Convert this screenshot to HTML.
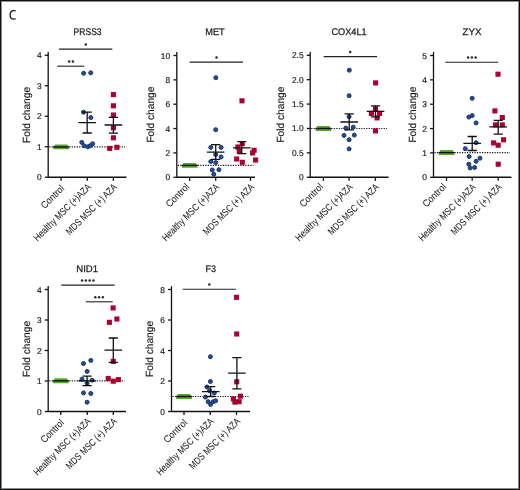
<!DOCTYPE html>
<html><head><meta charset="utf-8"><style>
html,body{margin:0;padding:0;background:#fff;}
body{width:520px;height:490px;overflow:hidden;position:relative;}
.frame{position:absolute;left:0;top:0;width:518px;height:488px;border:1px solid #111;}
.frame2{position:absolute;left:1px;top:1px;width:516px;height:486px;border:1px solid rgba(0,0,0,0.45);}
svg{position:absolute;left:0;top:0;will-change:transform;}
svg text{font-family:"Liberation Sans", sans-serif;text-rendering:geometricPrecision;fill:#1a1a1a;stroke:#1a1a1a;stroke-width:0.15px;}
.t{font-size:9.6px;stroke-width:0.25px;}
.fc{font-size:10.4px;}
.tk{font-size:8.4px;stroke-width:0.18px;}
.xl{font-size:9.8px;stroke-width:0.06px;}
.st{font-size:8px;}
.ax{stroke:#111;stroke-width:1.3;fill:none;}
.sg{stroke:#222;stroke-width:1.1;fill:none;}
.eb{stroke:#111;stroke-width:1.3;fill:none;}
.dot{stroke:#111;stroke-width:1.2;stroke-dasharray:1.2 1.3;fill:none;}
.gr{stroke:#5aa52d;stroke-width:5;stroke-linecap:round;fill:none;}
.blk{stroke:#111;stroke-width:1.4;fill:none;}
</style></head><body>
<div class="frame"></div><div class="frame2"></div>
<svg width="520" height="490" viewBox="0 0 520 490">
<path d="M15.8 10.95C14.9 10.55 14 10.5 13.3 10.6C11.3 10.9 10.1 12.7 10.1 14.9C10.1 17.2 11.4 18.9 13.5 19.05C14.3 19.1 15.1 19 15.8 18.7" fill="none" stroke="#111" stroke-width="1.25"/>
<g>
<text x="87.6" y="34.8" class="t" text-anchor="middle" textLength="28.0" lengthAdjust="spacingAndGlyphs">PRSS3</text>
<text transform="translate(29.5,114.9) rotate(-90)" class="fc" text-anchor="middle" textLength="56" lengthAdjust="spacingAndGlyphs">Fold change</text>
<path d="M48.2 52V177.25H126.5" class="ax"/>
<path d="M44.8 177.25H48.2" class="ax"/>
<text x="41.6" y="180.25" class="tk" text-anchor="end">0</text>
<path d="M44.8 146.75H48.2" class="ax"/>
<text x="41.6" y="149.75" class="tk" text-anchor="end">1</text>
<path d="M44.8 116.25H48.2" class="ax"/>
<text x="41.6" y="119.25" class="tk" text-anchor="end">2</text>
<path d="M44.8 85.75H48.2" class="ax"/>
<text x="41.6" y="88.75" class="tk" text-anchor="end">3</text>
<path d="M44.8 55.25H48.2" class="ax"/>
<text x="41.6" y="58.25" class="tk" text-anchor="end">4</text>
<path d="M61.1 177.25V180.85" class="ax"/>
<path d="M87.3 177.25V180.85" class="ax"/>
<path d="M113.4 177.25V180.85" class="ax"/>
<text transform="translate(64.9,189.05) rotate(-45)" class="xl" text-anchor="end" textLength="28.6" lengthAdjust="spacingAndGlyphs">Control</text>
<text transform="translate(91.5,187.65) rotate(-45)" class="xl" text-anchor="end" textLength="76.4" lengthAdjust="spacingAndGlyphs">Healthy MSC (+)AZA</text>
<text transform="translate(117.6,187.65) rotate(-45)" class="xl" text-anchor="end" textLength="67.5" lengthAdjust="spacingAndGlyphs">MDS MSC (+) AZA</text>
<path d="M49.2 146.95H125" class="dot"/>
<path d="M59 49.1H112.3" class="sg"/>
<circle cx="85.8" cy="44.5" r="1.25" fill="#2a2a2a"/>
<path d="M57.3 66.2H84.3" class="sg"/>
<circle cx="69.1" cy="61.6" r="1.25" fill="#2a2a2a"/>
<circle cx="72.9" cy="61.6" r="1.25" fill="#2a2a2a"/>
<path d="M54.9 144.45H67.4L69.3 149.35H53Z" fill="#5aa52d"/>
<path d="M53.1 146.95H69.2" class="blk"/>
<circle cx="83.6" cy="73.3" r="2.0" fill="#2b4b8a" stroke="#14336f" stroke-width="1"/>
<circle cx="90.7" cy="72.8" r="2.0" fill="#2b4b8a" stroke="#14336f" stroke-width="1"/>
<circle cx="83.5" cy="112.2" r="2.0" fill="#2b4b8a" stroke="#14336f" stroke-width="1"/>
<circle cx="90.8" cy="117.6" r="2.0" fill="#2b4b8a" stroke="#14336f" stroke-width="1"/>
<circle cx="81.8" cy="142.4" r="2.0" fill="#2b4b8a" stroke="#14336f" stroke-width="1"/>
<circle cx="84.2" cy="145.8" r="2.0" fill="#2b4b8a" stroke="#14336f" stroke-width="1"/>
<circle cx="87.7" cy="146.8" r="2.0" fill="#2b4b8a" stroke="#14336f" stroke-width="1"/>
<circle cx="90" cy="145.8" r="2.0" fill="#2b4b8a" stroke="#14336f" stroke-width="1"/>
<circle cx="92.6" cy="143.8" r="2.0" fill="#2b4b8a" stroke="#14336f" stroke-width="1"/>
<rect x="110.85" y="92.05" width="5.1" height="5.1" fill="#aa0032"/>
<rect x="110.85" y="103.25" width="5.1" height="5.1" fill="#aa0032"/>
<rect x="110.85" y="112.45" width="5.1" height="5.1" fill="#aa0032"/>
<rect x="110.85" y="125.25" width="5.1" height="5.1" fill="#aa0032"/>
<rect x="110.85" y="135.25" width="5.1" height="5.1" fill="#aa0032"/>
<rect x="107.15" y="145.85" width="5.1" height="5.1" fill="#aa0032"/>
<rect x="114.35" y="144.75" width="5.1" height="5.1" fill="#aa0032"/>
<path d="M87.2 112.2V133M82.6 112.2H91.8M82.6 133H91.8M78.4 122.7H96" class="eb"/>
<path d="M113.4 117.3V133.2M108.8 117.3H118M108.8 133.2H118M104.6 125H122.2" class="eb"/>
</g>
<g>
<text x="215" y="34.8" class="t" text-anchor="middle" textLength="19.5" lengthAdjust="spacingAndGlyphs">MET</text>
<text transform="translate(153.6,114.6) rotate(-90)" class="fc" text-anchor="middle" textLength="56" lengthAdjust="spacingAndGlyphs">Fold change</text>
<path d="M176.8 52V177.25H255" class="ax"/>
<path d="M173.4 177.25H176.8" class="ax"/>
<text x="170.2" y="180.25" class="tk" text-anchor="end">0</text>
<path d="M173.4 152.9H176.8" class="ax"/>
<text x="170.2" y="155.9" class="tk" text-anchor="end">2</text>
<path d="M173.4 128.55H176.8" class="ax"/>
<text x="170.2" y="131.55" class="tk" text-anchor="end">4</text>
<path d="M173.4 104.2H176.8" class="ax"/>
<text x="170.2" y="107.2" class="tk" text-anchor="end">6</text>
<path d="M173.4 79.85H176.8" class="ax"/>
<text x="170.2" y="82.85" class="tk" text-anchor="end">8</text>
<path d="M173.4 55.5H176.8" class="ax"/>
<text x="170.2" y="58.5" class="tk" text-anchor="end">10</text>
<path d="M189.6 177.25V180.85" class="ax"/>
<path d="M215.7 177.25V180.85" class="ax"/>
<path d="M250.5 177.25V180.85" class="ax"/>
<text transform="translate(189.9,187.45) rotate(-45)" class="xl" text-anchor="end" textLength="28.6" lengthAdjust="spacingAndGlyphs">Control</text>
<text transform="translate(219.9,187.65) rotate(-45)" class="xl" text-anchor="end" textLength="76.4" lengthAdjust="spacingAndGlyphs">Healthy MSC (+)AZA</text>
<text transform="translate(254.7,187.65) rotate(-45)" class="xl" text-anchor="end" textLength="67.5" lengthAdjust="spacingAndGlyphs">MDS MSC (+) AZA</text>
<path d="M177.8 165.4H253.5" class="dot"/>
<path d="M189.6 62.1H243" class="sg"/>
<circle cx="216.5" cy="57.5" r="1.25" fill="#2a2a2a"/>
<path d="M183.4 162.9H195.9L197.8 167.8H181.5Z" fill="#5aa52d"/>
<path d="M181.6 165.4H197.7" class="blk"/>
<circle cx="215.8" cy="77.7" r="2.0" fill="#2b4b8a" stroke="#14336f" stroke-width="1"/>
<circle cx="215.7" cy="129.7" r="2.0" fill="#2b4b8a" stroke="#14336f" stroke-width="1"/>
<circle cx="210.8" cy="147.4" r="2.0" fill="#2b4b8a" stroke="#14336f" stroke-width="1"/>
<circle cx="221.1" cy="147.4" r="2.0" fill="#2b4b8a" stroke="#14336f" stroke-width="1"/>
<circle cx="215.7" cy="154.6" r="2.0" fill="#2b4b8a" stroke="#14336f" stroke-width="1"/>
<circle cx="221.1" cy="156.9" r="2.0" fill="#2b4b8a" stroke="#14336f" stroke-width="1"/>
<circle cx="210.8" cy="161.5" r="2.0" fill="#2b4b8a" stroke="#14336f" stroke-width="1"/>
<circle cx="215.7" cy="162.6" r="2.0" fill="#2b4b8a" stroke="#14336f" stroke-width="1"/>
<circle cx="212.3" cy="170" r="2.0" fill="#2b4b8a" stroke="#14336f" stroke-width="1"/>
<circle cx="218.9" cy="169.7" r="2.0" fill="#2b4b8a" stroke="#14336f" stroke-width="1"/>
<circle cx="213.8" cy="174.3" r="2.0" fill="#2b4b8a" stroke="#14336f" stroke-width="1"/>
<rect x="239.45" y="98.25" width="5.1" height="5.1" fill="#aa0032"/>
<rect x="239.75" y="141.15" width="5.1" height="5.1" fill="#aa0032"/>
<rect x="235.35" y="144.45" width="5.1" height="5.1" fill="#aa0032"/>
<rect x="236.75" y="148.55" width="5.1" height="5.1" fill="#aa0032"/>
<rect x="251.55" y="147.75" width="5.1" height="5.1" fill="#aa0032"/>
<rect x="250.05" y="150.35" width="5.1" height="5.1" fill="#aa0032"/>
<rect x="234.15" y="156.45" width="5.1" height="5.1" fill="#aa0032"/>
<rect x="239.75" y="159.75" width="5.1" height="5.1" fill="#aa0032"/>
<rect x="253.05" y="157.45" width="5.1" height="5.1" fill="#aa0032"/>
<path d="M215.7 144.6V159.3M211.1 144.6H220.3M211.1 159.3H220.3M206.9 152.1H224.5" class="eb"/>
<path d="M241.8 141.6V153.7M237.2 141.6H246.4M237.2 153.7H246.4M233 147.8H250.6" class="eb"/>
</g>
<g>
<text x="349" y="34.8" class="t" text-anchor="middle" textLength="35.2" lengthAdjust="spacingAndGlyphs">COX4L1</text>
<text transform="translate(284.3,114.6) rotate(-90)" class="fc" text-anchor="middle" textLength="56" lengthAdjust="spacingAndGlyphs">Fold change</text>
<path d="M310.2 52V177.25H388.6" class="ax"/>
<path d="M306.8 177.25H310.2" class="ax"/>
<text x="303.6" y="180.25" class="tk" text-anchor="end">0</text>
<path d="M306.8 152.86H310.2" class="ax"/>
<text x="303.6" y="155.86" class="tk" text-anchor="end">0.5</text>
<path d="M306.8 128.47H310.2" class="ax"/>
<text x="303.6" y="131.47" class="tk" text-anchor="end">1.0</text>
<path d="M306.8 104.08H310.2" class="ax"/>
<text x="303.6" y="107.08" class="tk" text-anchor="end">1.5</text>
<path d="M306.8 79.69H310.2" class="ax"/>
<text x="303.6" y="82.69" class="tk" text-anchor="end">2.0</text>
<path d="M306.8 55.3H310.2" class="ax"/>
<text x="303.6" y="58.3" class="tk" text-anchor="end">2.5</text>
<path d="M323.4 177.25V180.85" class="ax"/>
<path d="M349.1 177.25V180.85" class="ax"/>
<path d="M375.4 177.25V180.85" class="ax"/>
<text transform="translate(323.7,187.45) rotate(-45)" class="xl" text-anchor="end" textLength="28.6" lengthAdjust="spacingAndGlyphs">Control</text>
<text transform="translate(353.3,187.65) rotate(-45)" class="xl" text-anchor="end" textLength="76.4" lengthAdjust="spacingAndGlyphs">Healthy MSC (+)AZA</text>
<text transform="translate(379.6,187.65) rotate(-45)" class="xl" text-anchor="end" textLength="67.5" lengthAdjust="spacingAndGlyphs">MDS MSC (+) AZA</text>
<path d="M311.2 128.5H387.1" class="dot"/>
<path d="M323.7 56.6H377" class="sg"/>
<circle cx="350.2" cy="52" r="1.25" fill="#2a2a2a"/>
<path d="M317.2 126H329.7L331.6 130.9H315.3Z" fill="#5aa52d"/>
<path d="M315.4 128.5H331.5" class="blk"/>
<circle cx="349.3" cy="70.2" r="2.0" fill="#2b4b8a" stroke="#14336f" stroke-width="1"/>
<circle cx="349.1" cy="95.7" r="2.0" fill="#2b4b8a" stroke="#14336f" stroke-width="1"/>
<circle cx="349.1" cy="116.7" r="2.0" fill="#2b4b8a" stroke="#14336f" stroke-width="1"/>
<circle cx="345.8" cy="128.1" r="2.0" fill="#2b4b8a" stroke="#14336f" stroke-width="1"/>
<circle cx="353.2" cy="127.2" r="2.0" fill="#2b4b8a" stroke="#14336f" stroke-width="1"/>
<circle cx="344" cy="135.4" r="2.0" fill="#2b4b8a" stroke="#14336f" stroke-width="1"/>
<circle cx="354.3" cy="135.1" r="2.0" fill="#2b4b8a" stroke="#14336f" stroke-width="1"/>
<circle cx="349.1" cy="139.7" r="2.0" fill="#2b4b8a" stroke="#14336f" stroke-width="1"/>
<circle cx="349.1" cy="148.9" r="2.0" fill="#2b4b8a" stroke="#14336f" stroke-width="1"/>
<rect x="373.05" y="80.35" width="5.1" height="5.1" fill="#aa0032"/>
<rect x="372.95" y="106.35" width="5.1" height="5.1" fill="#aa0032"/>
<rect x="368.85" y="110.85" width="5.1" height="5.1" fill="#aa0032"/>
<rect x="377.05" y="110.85" width="5.1" height="5.1" fill="#aa0032"/>
<rect x="374.55" y="115.35" width="5.1" height="5.1" fill="#aa0032"/>
<rect x="372.95" y="128.35" width="5.1" height="5.1" fill="#aa0032"/>
<path d="M349.2 113.8V129.9M344.6 113.8H353.8M344.6 129.9H353.8M340.4 122H358" class="eb"/>
<path d="M375.5 105.8V116.8M370.9 105.8H380.1M370.9 116.8H380.1M366.7 111.3H384.3" class="eb"/>
</g>
<g>
<text x="472" y="34.8" class="t" text-anchor="middle" textLength="19.0" lengthAdjust="spacingAndGlyphs">ZYX</text>
<text transform="translate(415.7,114.6) rotate(-90)" class="fc" text-anchor="middle" textLength="56" lengthAdjust="spacingAndGlyphs">Fold change</text>
<path d="M433.5 52V177.25H511.4" class="ax"/>
<path d="M430.1 177.25H433.5" class="ax"/>
<text x="426.9" y="180.25" class="tk" text-anchor="end">0</text>
<path d="M430.1 152.9H433.5" class="ax"/>
<text x="426.9" y="155.9" class="tk" text-anchor="end">1</text>
<path d="M430.1 128.55H433.5" class="ax"/>
<text x="426.9" y="131.55" class="tk" text-anchor="end">2</text>
<path d="M430.1 104.2H433.5" class="ax"/>
<text x="426.9" y="107.2" class="tk" text-anchor="end">3</text>
<path d="M430.1 79.85H433.5" class="ax"/>
<text x="426.9" y="82.85" class="tk" text-anchor="end">4</text>
<path d="M430.1 55.5H433.5" class="ax"/>
<text x="426.9" y="58.5" class="tk" text-anchor="end">5</text>
<path d="M446.5 177.25V180.85" class="ax"/>
<path d="M472.2 177.25V180.85" class="ax"/>
<path d="M498.2 177.25V180.85" class="ax"/>
<text transform="translate(446.8,187.45) rotate(-45)" class="xl" text-anchor="end" textLength="28.6" lengthAdjust="spacingAndGlyphs">Control</text>
<text transform="translate(476.4,187.65) rotate(-45)" class="xl" text-anchor="end" textLength="76.4" lengthAdjust="spacingAndGlyphs">Healthy MSC (+)AZA</text>
<text transform="translate(502.4,187.65) rotate(-45)" class="xl" text-anchor="end" textLength="67.5" lengthAdjust="spacingAndGlyphs">MDS MSC (+) AZA</text>
<path d="M434.5 152.6H509.9" class="dot"/>
<path d="M445.2 62.2H498.3" class="sg"/>
<circle cx="468.1" cy="57.6" r="1.25" fill="#2a2a2a"/>
<circle cx="471.9" cy="57.6" r="1.25" fill="#2a2a2a"/>
<circle cx="475.7" cy="57.6" r="1.25" fill="#2a2a2a"/>
<path d="M440.3 150.1H452.8L454.7 155H438.4Z" fill="#5aa52d"/>
<path d="M438.5 152.6H454.6" class="blk"/>
<circle cx="472.2" cy="98.3" r="2.0" fill="#2b4b8a" stroke="#14336f" stroke-width="1"/>
<circle cx="468.8" cy="117.1" r="2.0" fill="#2b4b8a" stroke="#14336f" stroke-width="1"/>
<circle cx="472.2" cy="115.6" r="2.0" fill="#2b4b8a" stroke="#14336f" stroke-width="1"/>
<circle cx="476.1" cy="122.9" r="2.0" fill="#2b4b8a" stroke="#14336f" stroke-width="1"/>
<circle cx="476.1" cy="142.7" r="2.0" fill="#2b4b8a" stroke="#14336f" stroke-width="1"/>
<circle cx="465.3" cy="148.7" r="2.0" fill="#2b4b8a" stroke="#14336f" stroke-width="1"/>
<circle cx="469.1" cy="156.5" r="2.0" fill="#2b4b8a" stroke="#14336f" stroke-width="1"/>
<circle cx="480" cy="158.2" r="2.0" fill="#2b4b8a" stroke="#14336f" stroke-width="1"/>
<circle cx="476.1" cy="161.3" r="2.0" fill="#2b4b8a" stroke="#14336f" stroke-width="1"/>
<circle cx="468.8" cy="164.2" r="2.0" fill="#2b4b8a" stroke="#14336f" stroke-width="1"/>
<circle cx="470.1" cy="167.9" r="2.0" fill="#2b4b8a" stroke="#14336f" stroke-width="1"/>
<circle cx="474.6" cy="167.5" r="2.0" fill="#2b4b8a" stroke="#14336f" stroke-width="1"/>
<rect x="495.45" y="71.65" width="5.1" height="5.1" fill="#aa0032"/>
<rect x="492.35" y="108.35" width="5.1" height="5.1" fill="#aa0032"/>
<rect x="499.75" y="114.95" width="5.1" height="5.1" fill="#aa0032"/>
<rect x="492.95" y="122.35" width="5.1" height="5.1" fill="#aa0032"/>
<rect x="499.75" y="122.35" width="5.1" height="5.1" fill="#aa0032"/>
<rect x="501.05" y="137.25" width="5.1" height="5.1" fill="#aa0032"/>
<rect x="491.05" y="140.35" width="5.1" height="5.1" fill="#aa0032"/>
<rect x="495.65" y="142.65" width="5.1" height="5.1" fill="#aa0032"/>
<rect x="495.65" y="161.65" width="5.1" height="5.1" fill="#aa0032"/>
<path d="M472.2 136.5V150.5M467.6 136.5H476.8M467.6 150.5H476.8M463.4 143.3H481" class="eb"/>
<path d="M498.2 120.4V134.2M493.6 120.4H502.8M493.6 134.2H502.8M489.4 126.8H507" class="eb"/>
</g>
<g>
<text x="87.2" y="271.6" class="t" text-anchor="middle" textLength="21.8" lengthAdjust="spacingAndGlyphs">NID1</text>
<text transform="translate(29.5,348.9) rotate(-90)" class="fc" text-anchor="middle" textLength="56" lengthAdjust="spacingAndGlyphs">Fold change</text>
<path d="M48.2 286.1V411.5H126" class="ax"/>
<path d="M44.8 411.5H48.2" class="ax"/>
<text x="41.6" y="414.5" class="tk" text-anchor="end">0</text>
<path d="M44.8 381H48.2" class="ax"/>
<text x="41.6" y="384" class="tk" text-anchor="end">1</text>
<path d="M44.8 350.5H48.2" class="ax"/>
<text x="41.6" y="353.5" class="tk" text-anchor="end">2</text>
<path d="M44.8 320H48.2" class="ax"/>
<text x="41.6" y="323" class="tk" text-anchor="end">3</text>
<path d="M44.8 289.5H48.2" class="ax"/>
<text x="41.6" y="292.5" class="tk" text-anchor="end">4</text>
<path d="M60.8 411.5V415.1" class="ax"/>
<path d="M87.2 411.5V415.1" class="ax"/>
<path d="M113.3 411.5V415.1" class="ax"/>
<text transform="translate(64.6,423.3) rotate(-45)" class="xl" text-anchor="end" textLength="28.6" lengthAdjust="spacingAndGlyphs">Control</text>
<text transform="translate(91.4,421.9) rotate(-45)" class="xl" text-anchor="end" textLength="76.4" lengthAdjust="spacingAndGlyphs">Healthy MSC (+)AZA</text>
<text transform="translate(117.5,421.9) rotate(-45)" class="xl" text-anchor="end" textLength="67.5" lengthAdjust="spacingAndGlyphs">MDS MSC (+) AZA</text>
<path d="M49.2 380.8H124.5" class="dot"/>
<path d="M61.2 285.1H114.6" class="sg"/>
<circle cx="82.05" cy="280.5" r="1.25" fill="#2a2a2a"/>
<circle cx="85.85" cy="280.5" r="1.25" fill="#2a2a2a"/>
<circle cx="89.65" cy="280.5" r="1.25" fill="#2a2a2a"/>
<circle cx="93.45" cy="280.5" r="1.25" fill="#2a2a2a"/>
<path d="M85.9 301.8H112.7" class="sg"/>
<circle cx="95.3" cy="297.2" r="1.25" fill="#2a2a2a"/>
<circle cx="99.1" cy="297.2" r="1.25" fill="#2a2a2a"/>
<circle cx="102.9" cy="297.2" r="1.25" fill="#2a2a2a"/>
<path d="M54.6 378.3H67.1L69 383.2H52.7Z" fill="#5aa52d"/>
<path d="M52.8 380.8H68.9" class="blk"/>
<circle cx="90.8" cy="360.4" r="2.0" fill="#2b4b8a" stroke="#14336f" stroke-width="1"/>
<circle cx="83.5" cy="363.5" r="2.0" fill="#2b4b8a" stroke="#14336f" stroke-width="1"/>
<circle cx="87.1" cy="371.4" r="2.0" fill="#2b4b8a" stroke="#14336f" stroke-width="1"/>
<circle cx="82" cy="379.2" r="2.0" fill="#2b4b8a" stroke="#14336f" stroke-width="1"/>
<circle cx="92.2" cy="380.2" r="2.0" fill="#2b4b8a" stroke="#14336f" stroke-width="1"/>
<circle cx="87.1" cy="383.3" r="2.0" fill="#2b4b8a" stroke="#14336f" stroke-width="1"/>
<circle cx="83.5" cy="392.9" r="2.0" fill="#2b4b8a" stroke="#14336f" stroke-width="1"/>
<circle cx="90.8" cy="393.5" r="2.0" fill="#2b4b8a" stroke="#14336f" stroke-width="1"/>
<circle cx="87.1" cy="402.2" r="2.0" fill="#2b4b8a" stroke="#14336f" stroke-width="1"/>
<rect x="110.55" y="305.35" width="5.1" height="5.1" fill="#aa0032"/>
<rect x="114.35" y="316.45" width="5.1" height="5.1" fill="#aa0032"/>
<rect x="106.85" y="319.75" width="5.1" height="5.1" fill="#aa0032"/>
<rect x="110.75" y="358.85" width="5.1" height="5.1" fill="#aa0032"/>
<rect x="105.65" y="376.05" width="5.1" height="5.1" fill="#aa0032"/>
<rect x="110.75" y="378.65" width="5.1" height="5.1" fill="#aa0032"/>
<rect x="115.85" y="377.05" width="5.1" height="5.1" fill="#aa0032"/>
<path d="M87.1 376.1V385.7M82.5 376.1H91.7M82.5 385.7H91.7M78.3 380.8H95.9" class="eb"/>
<path d="M113.3 338V362.4M108.7 338H117.9M108.7 362.4H117.9M104.5 350.2H122.1" class="eb"/>
</g>
<g>
<text x="210.8" y="271.8" class="t" text-anchor="middle" textLength="10.5" lengthAdjust="spacingAndGlyphs">F3</text>
<text transform="translate(153.2,348.9) rotate(-90)" class="fc" text-anchor="middle" textLength="56" lengthAdjust="spacingAndGlyphs">Fold change</text>
<path d="M171.5 286.2V411.5H250" class="ax"/>
<path d="M168.1 411.5H171.5" class="ax"/>
<text x="164.9" y="414.5" class="tk" text-anchor="end">0</text>
<path d="M168.1 381H171.5" class="ax"/>
<text x="164.9" y="384" class="tk" text-anchor="end">2</text>
<path d="M168.1 350.5H171.5" class="ax"/>
<text x="164.9" y="353.5" class="tk" text-anchor="end">4</text>
<path d="M168.1 320H171.5" class="ax"/>
<text x="164.9" y="323" class="tk" text-anchor="end">6</text>
<path d="M168.1 289.5H171.5" class="ax"/>
<text x="164.9" y="292.5" class="tk" text-anchor="end">8</text>
<path d="M184 411.5V415.1" class="ax"/>
<path d="M210.2 411.5V415.1" class="ax"/>
<path d="M236.5 411.5V415.1" class="ax"/>
<text transform="translate(187.8,423.3) rotate(-45)" class="xl" text-anchor="end" textLength="28.6" lengthAdjust="spacingAndGlyphs">Control</text>
<text transform="translate(214.4,421.9) rotate(-45)" class="xl" text-anchor="end" textLength="76.4" lengthAdjust="spacingAndGlyphs">Healthy MSC (+)AZA</text>
<text transform="translate(240.7,421.9) rotate(-45)" class="xl" text-anchor="end" textLength="67.5" lengthAdjust="spacingAndGlyphs">MDS MSC (+) AZA</text>
<path d="M172.5 396.5H248.5" class="dot"/>
<path d="M182.7 289.2H235.8" class="sg"/>
<circle cx="209.3" cy="284.6" r="1.25" fill="#2a2a2a"/>
<path d="M177.8 394H190.3L192.2 398.9H175.9Z" fill="#5aa52d"/>
<path d="M176 396.5H192.1" class="blk"/>
<circle cx="210.4" cy="356.7" r="2.0" fill="#2b4b8a" stroke="#14336f" stroke-width="1"/>
<circle cx="210.4" cy="381.5" r="2.0" fill="#2b4b8a" stroke="#14336f" stroke-width="1"/>
<circle cx="206.9" cy="387" r="2.0" fill="#2b4b8a" stroke="#14336f" stroke-width="1"/>
<circle cx="214.3" cy="393" r="2.0" fill="#2b4b8a" stroke="#14336f" stroke-width="1"/>
<circle cx="205.4" cy="397.1" r="2.0" fill="#2b4b8a" stroke="#14336f" stroke-width="1"/>
<circle cx="208.2" cy="401.7" r="2.0" fill="#2b4b8a" stroke="#14336f" stroke-width="1"/>
<circle cx="213.2" cy="401.7" r="2.0" fill="#2b4b8a" stroke="#14336f" stroke-width="1"/>
<circle cx="215.6" cy="400.8" r="2.0" fill="#2b4b8a" stroke="#14336f" stroke-width="1"/>
<circle cx="210.6" cy="404.4" r="2.0" fill="#2b4b8a" stroke="#14336f" stroke-width="1"/>
<circle cx="209.5" cy="390.7" r="2.0" fill="#2b4b8a" stroke="#14336f" stroke-width="1"/>
<rect x="233.95" y="294.75" width="5.1" height="5.1" fill="#aa0032"/>
<rect x="234.15" y="331.45" width="5.1" height="5.1" fill="#aa0032"/>
<rect x="234.15" y="379.25" width="5.1" height="5.1" fill="#aa0032"/>
<rect x="237.85" y="393.65" width="5.1" height="5.1" fill="#aa0032"/>
<rect x="230.85" y="396.35" width="5.1" height="5.1" fill="#aa0032"/>
<rect x="232.35" y="399.55" width="5.1" height="5.1" fill="#aa0032"/>
<rect x="236.55" y="399.15" width="5.1" height="5.1" fill="#aa0032"/>
<path d="M210.7 386.6V396.5M206.1 386.6H215.3M206.1 396.5H215.3M201.9 391.6H219.5" class="eb"/>
<path d="M236.9 357.6V388.8M232.3 357.6H241.5M232.3 388.8H241.5M228.1 373.2H245.7" class="eb"/>
</g>
</svg>
</body></html>
